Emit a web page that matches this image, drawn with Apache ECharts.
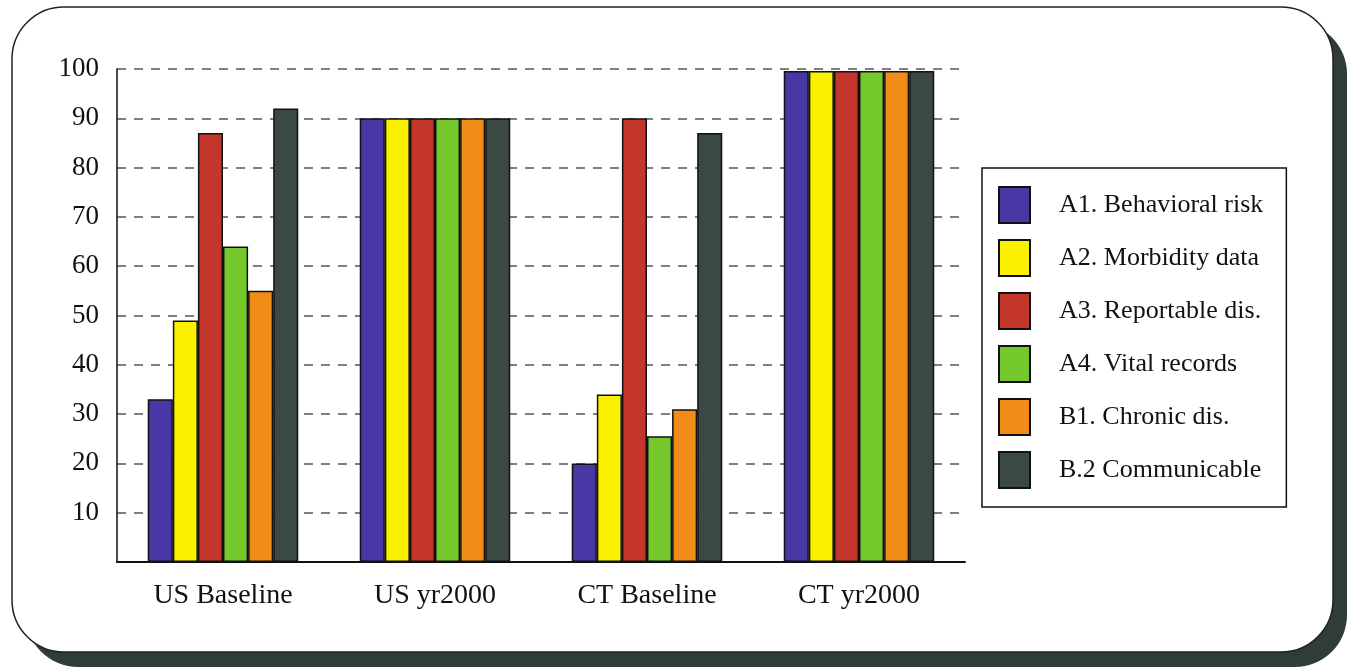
<!DOCTYPE html>
<html>
<head>
<meta charset="utf-8">
<script src="https://cdn.jsdelivr.net/npm/echarts@6/dist/echarts.min.js"></script>
<style>
html,body{margin:0;padding:0;background:#ffffff;}
#chart{width:1348px;height:669px;}
</style>
</head>
<body>
<div id="chart"></div>
<script>
const categories = ['US Baseline', 'US yr2000', 'CT Baseline', 'CT yr2000'];
const seriesNames = ['A1. Behavioral risk', 'A2. Morbidity data', 'A3. Reportable dis.', 'A4. Vital records', 'B1. Chronic dis.', 'B.2 Communicable'];
const a1Behavioral = [33, 90, 20, 99.6];
const a2Morbidity = [49, 90, 34, 99.6];
const a3Reportable = [87, 90, 90, 99.6];
const a4Vital = [64, 90, 25.5, 99.6];
const b1Chronic = [55, 90, 31, 99.6];
const b2Communicable = [92, 90, 87, 99.6];
const yTicks = [0, 10, 20, 30, 40, 50, 60, 70, 80, 90, 100];

const seriesValues = [a1Behavioral, a2Morbidity, a3Reportable, a4Vital, b1Chronic, b2Communicable];
const colors = ['#4a37a6', '#fbf000', '#c4362c', '#74c82c', '#f28c18', '#3b4945'];
const serif = '"Liberation Serif", "DejaVu Serif", serif';

const chart = echarts.init(document.getElementById('chart'), null, {renderer: 'canvas'});
chart.setOption({
  animation: false,
  backgroundColor: '#ffffff',
  graphic: [
    {type: 'rect', z: -20, silent: true,
     shape: {x: 26, y: 22, width: 1321, height: 645, r: 52},
     style: {fill: '#2f3c37'}},
    {type: 'rect', z: -10, silent: true,
     shape: {x: 12, y: 7, width: 1321, height: 645, r: 52},
     style: {fill: '#ffffff', stroke: '#222222', lineWidth: 1.5}}
  ],
  grid: {left: 117, top: 69, right: 383, bottom: 107, containLabel: false},
  legend: {
    orient: 'vertical',
    left: 982, top: 168,
    padding: [18, 23, 18, 16],
    borderColor: '#111111', borderWidth: 1.5,
    backgroundColor: '#ffffff',
    itemWidth: 31, itemHeight: 36, itemGap: 15,
    icon: 'rect',
    textStyle: {fontFamily: serif, fontSize: 26, color: '#111111', padding: [0, 0, 0, 24]},
    data: seriesNames
  },
  xAxis: {
    type: 'category',
    data: categories,
    axisLine: {lineStyle: {color: '#111111', width: 2}},
    axisTick: {show: false},
    axisLabel: {fontFamily: serif, fontSize: 28, color: '#111111', margin: 20},
    splitLine: {show: false}
  },
  yAxis: {
    type: 'value',
    min: yTicks[0], max: yTicks[yTicks.length - 1], interval: 10,
    axisLine: {show: true, lineStyle: {color: '#111111', width: 1.5}},
    axisTick: {show: false},
    axisLabel: {fontFamily: serif, fontSize: 27, color: '#111111', margin: 18,
      formatter: v => (v === 0 ? '' : String(v))},
    splitLine: {show: true, lineStyle: {color: '#555555', width: 1.5, type: [9, 8]}}
  },
  series: seriesNames.map((name, i) => ({
    name: name,
    type: 'bar',
    data: seriesValues[i],
    barGap: '0%',
    barCategoryGap: '29%',
    itemStyle: {color: colors[i], borderColor: '#111111', borderWidth: 1.5}
  }))
});
</script>
</body>
</html>
